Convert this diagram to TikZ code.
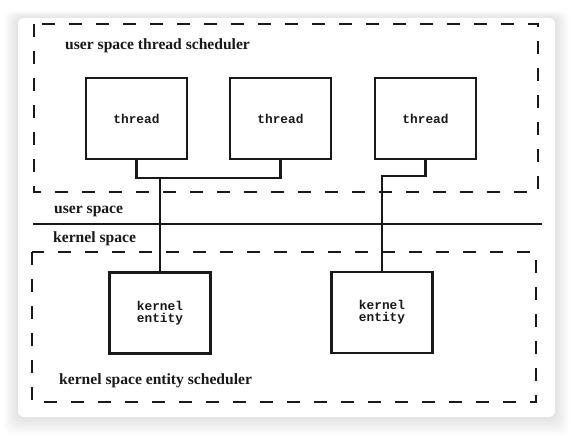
\documentclass[tikz,border=0pt]{standalone}
\usepackage{fontspec}
\setmainfont{Liberation Serif}
\setmonofont{Liberation Mono}
\begin{document}
\begin{tikzpicture}[x=1pt,y=-1pt,
  ink/.style={draw=black!90},
  region/.style={ink, line width=1.7pt, dash pattern=on 13pt off 14pt},
  unitbox/.style={ink, line width=2.9pt, fill=white, minimum width=101pt, minimum height=81pt,
    inner sep=0pt, align=center, text=black!90, font=\ttfamily\bfseries\fontsize{12.8}{12}\selectfont},
  wire/.style={ink, line width=2.4pt},
  label/.style={anchor=base west, inner sep=0pt, text=black!90,
    font=\rmfamily\bfseries\fontsize{15.6}{18}\selectfont}]
\useasboundingbox (0,0) rectangle (573,436);
\fill[white] (0,0) rectangle (573,436);
% soft shadow behind the card
\foreach \s in {1,...,14}{
  \fill[black, opacity=0.008, rounded corners=8pt]
    (18-\s,18-0.5*\s) rectangle (555+\s,417+1.3*\s);
}
% card
\fill[white, rounded corners=6pt] (18,18) rectangle (555,417);

% scheduler regions
\draw[region] (34,24) rectangle (538,192);
\draw[region] (32,252) rectangle (536,402);
% user / kernel boundary
\draw[ink, line width=1.8pt] (33,224) -- (542,224);

% labels
\node[label] (lus) at (65,50) {user space thread scheduler};
\node[label] (lu) at (54,213) {user space};
\node[label] (lk) at (53,242) {kernel space};
\node[label] (lks) at (59,384) {kernel space entity scheduler};

% threads
\node[unitbox] (t1) at (136.5,118.5) {thread};
\node[unitbox] (t2) at (280.5,118.5) {thread};
\node[unitbox] (t3) at (425.5,118.5) {thread};
% kernel entities
\node[unitbox] (k1) at (160,313) {kernel\\entity};
\node[unitbox] (k2) at (382,312.5) {kernel\\entity};

% mappings
\coordinate (j1) at (160,178);
\coordinate (j2) at (382,176);
\draw[wire] (t1.south) -- (t1.south |- j1) -- (t2.south |- j1) -- (t2.south);
\draw[wire] (j1) -- (k1.north);
\draw[wire] (t3.south) |- (j2) -- (k2.north);
\end{tikzpicture}
\end{document}
